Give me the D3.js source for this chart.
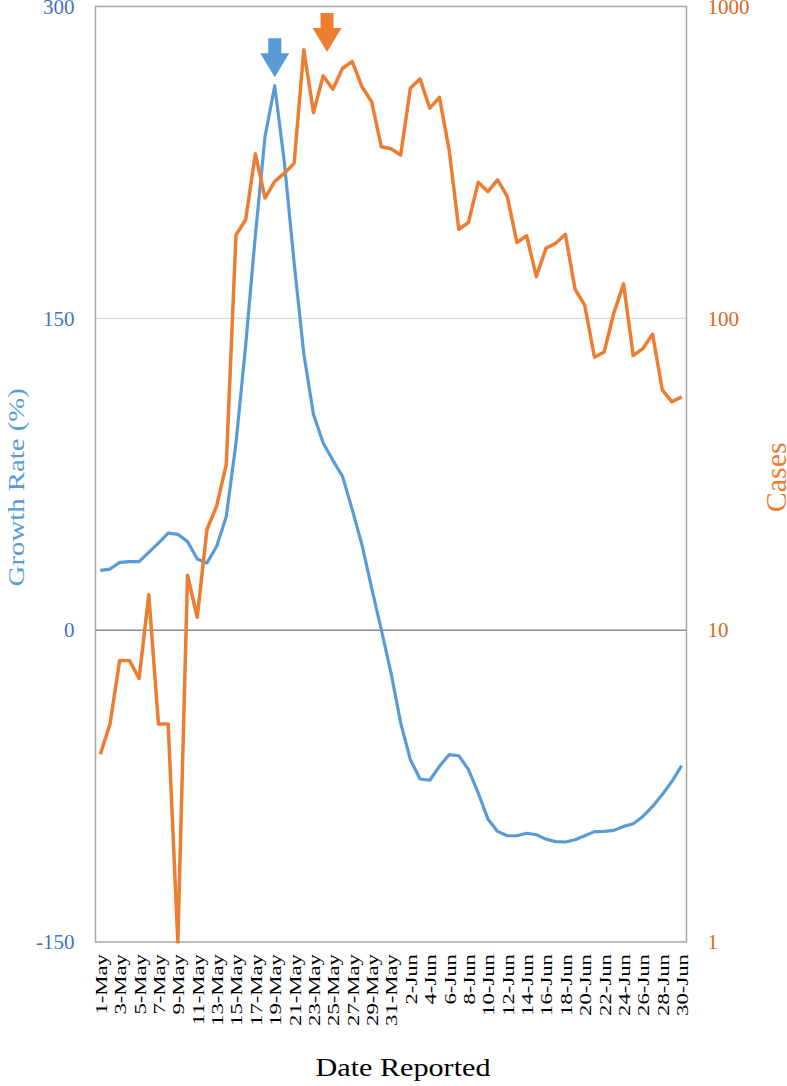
<!DOCTYPE html>
<html>
<head>
<meta charset="utf-8">
<script src="https://cdn.jsdelivr.net/npm/d3@7"></script>
<style>
  body { margin: 0; background: #fff; }
  text { font-family: "Liberation Serif", "Times New Roman", serif; }
</style>
</head>
<body>
<div class="chartWrap"></div>
<script>
var width = 787,
  height = 1086,
  plotLeft = 95.5,
  plotRight = 686.5,
  plotTop = 6.5,
  plotBottom = 942;

// categories: 1-May .. 30-Jun
var dates = d3.range(1, 32).map(function(d){ return d + '-May'; })
  .concat(d3.range(1, 31).map(function(d){ return d + '-Jun'; }));

// growth rate (%), left axis
var growth = [28.8, 29.4, 32.6, 33, 33, 37.4, 41.9, 46.7, 46.1, 42.6,
  34.2, 32.3, 40.3, 54.7, 90, 137, 190, 237.5, 261.9, 224.8,
  176.8, 133, 103.7, 90, 81.7, 74, 58, 41.1, 20.3, 0.2, -20.5,
  -44.6, -62.3, -71.6, -72.2, -65.5, -59.9, -60.4, -67.1, -78.3, -90.8,
  -96.8, -98.9, -98.9, -97.7, -98.4, -100.5, -101.7, -101.9, -100.8, -98.9,
  -96.9, -96.8, -96.3, -94.4, -93.1, -89.6, -84.8, -79.1, -72.7, -65.2];

// daily cases, right axis (log)
var cases = [4, 5, 8, 8, 7, 13, 5, 5, 1, 15,
  11, 21, 25, 34, 185, 207, 337, 243, 275, 292,
  314, 726, 457, 599, 543, 634, 666, 553, 495, 355, 350,
  334, 547, 586, 472, 511, 347, 193, 203, 273, 255,
  278, 246, 175, 184, 136, 168, 174, 186, 124, 110,
  75, 78, 104, 129, 76, 80, 89, 59, 54, 56];

var growthTicks = [-150, 0, 150, 300],
  caseTicks = [1, 10, 100, 1000],
  dateTicks = dates.filter(function(d, i){ return i % 2 === 0; });

// arrow markers: [day index, value on own axis]
var blueArrow = [18, 266],
  orangeArrow = [23.4, 715];

var blue = '#5b9bd5',
  orange = '#ed7d31';

var svg = d3.select('.chartWrap')
  .append('svg')
  .attr('width', width)
  .attr('height', height);

var x = d3.scalePoint().domain(dates).range([plotLeft, plotRight]).padding(0.5);
var xi = d3.scaleLinear().domain([0, dates.length - 1])
  .range([x(dates[0]), x(dates[dates.length - 1])]);
var yL = d3.scaleLinear().domain([-150, 300]).range([plotBottom, plotTop]);
var yR = d3.scaleLog().domain([1, 1000]).range([plotBottom, plotTop]);

// gridline at 150
svg.append('line')
  .attr('x1', plotLeft).attr('x2', plotRight)
  .attr('y1', yL(150)).attr('y2', yL(150))
  .style('stroke', '#d9d9d9').style('stroke-width', 1.2);

// zero line
svg.append('line')
  .attr('x1', plotLeft).attr('x2', plotRight)
  .attr('y1', yL(0)).attr('y2', yL(0))
  .style('stroke', '#8c8c8c').style('stroke-width', 1.5);

// frame
svg.append('rect')
  .attr('x', plotLeft).attr('y', plotTop)
  .attr('width', plotRight - plotLeft).attr('height', plotBottom - plotTop)
  .style('fill', 'none').style('stroke', '#a6a6a6').style('stroke-width', 1.5);

// left axis (plain hyphen for negatives)
var gL = svg.append('g')
  .attr('transform', 'translate(' + (plotLeft - 21) + ',0)')
  .call(d3.axisLeft(yL).tickValues(growthTicks)
    .tickFormat(function(d){ return String(d); })
    .tickSize(0).tickPadding(0));
gL.select('.domain').remove();
gL.selectAll('text')
  .style('font-family', '"Liberation Serif", serif')
  .style('font-size', '21px')
  .style('fill', '#4472c4');

// right axis
var gR = svg.append('g')
  .attr('transform', 'translate(' + (plotRight + 21) + ',0)')
  .call(d3.axisRight(yR).tickValues(caseTicks).tickFormat(d3.format('d')).tickSize(0).tickPadding(0));
gR.select('.domain').remove();
gR.selectAll('text')
  .style('font-family', '"Liberation Serif", serif')
  .style('font-size', '21px')
  .style('fill', '#d2691e');

// bottom axis
var gB = svg.append('g')
  .attr('transform', 'translate(0,' + plotBottom + ')')
  .call(d3.axisBottom(x).tickValues(dateTicks).tickSize(0));
gB.select('.domain').remove();
gB.selectAll('text')
  .attr('y', 0)
  .attr('transform', 'translate(0,12) rotate(-90) scale(1.3,1)')
  .attr('dy', '0.34em')
  .style('text-anchor', 'end')
  .style('font-family', '"Liberation Serif", serif')
  .style('font-size', '17.5px')
  .style('fill', '#000');

// lines
var lineG = d3.line()
  .x(function(d, i){ return x(dates[i]); })
  .y(function(d){ return yL(d); });
var lineC = d3.line()
  .x(function(d, i){ return x(dates[i]); })
  .y(function(d){ return yR(d); });

svg.append('path')
  .datum(growth)
  .attr('d', lineG)
  .style('fill', 'none').style('stroke', blue)
  .style('stroke-width', 3.2).style('stroke-linejoin', 'round');

svg.append('path')
  .datum(cases)
  .attr('d', lineC)
  .style('fill', 'none').style('stroke', orange)
  .style('stroke-width', 3.5).style('stroke-linejoin', 'round');

// arrows (tip at given point)
var arrowPath = function(cx, ty){
  return 'M' + cx + ',' + ty +
    'L' + (cx - 14.5) + ',' + (ty - 24) +
    'L' + (cx - 6.5) + ',' + (ty - 24) +
    'L' + (cx - 6.5) + ',' + (ty - 39) +
    'L' + (cx + 6.5) + ',' + (ty - 39) +
    'L' + (cx + 6.5) + ',' + (ty - 24) +
    'L' + (cx + 14.5) + ',' + (ty - 24) + 'Z';
};
svg.append('path')
  .attr('d', arrowPath(xi(blueArrow[0]), yL(blueArrow[1])))
  .style('fill', blue);
svg.append('path')
  .attr('d', arrowPath(xi(orangeArrow[0]), yR(orangeArrow[1])))
  .style('fill', orange);

// axis titles
svg.append('text')
  .attr('transform', 'translate(24,' + ((plotTop + plotBottom) / 2 + 13) + ') rotate(-90) scale(1.2,1)')
  .style('text-anchor', 'middle')
  .style('font-size', '24px')
  .style('fill', blue)
  .text('Growth Rate (%)');

svg.append('text')
  .attr('transform', 'translate(786,' + ((plotTop + plotBottom) / 2 + 3) + ') rotate(-90)')
  .style('text-anchor', 'middle')
  .style('font-size', '30px')
  .style('fill', orange)
  .text('Cases');

svg.append('text')
  .attr('transform', 'translate(' + ((plotLeft + plotRight) / 2 + 12) + ',1076) scale(1.16,1)')
  .style('text-anchor', 'middle')
  .style('font-size', '26px')
  .style('fill', '#000')
  .text('Date Reported');
</script>
</body>
</html>
